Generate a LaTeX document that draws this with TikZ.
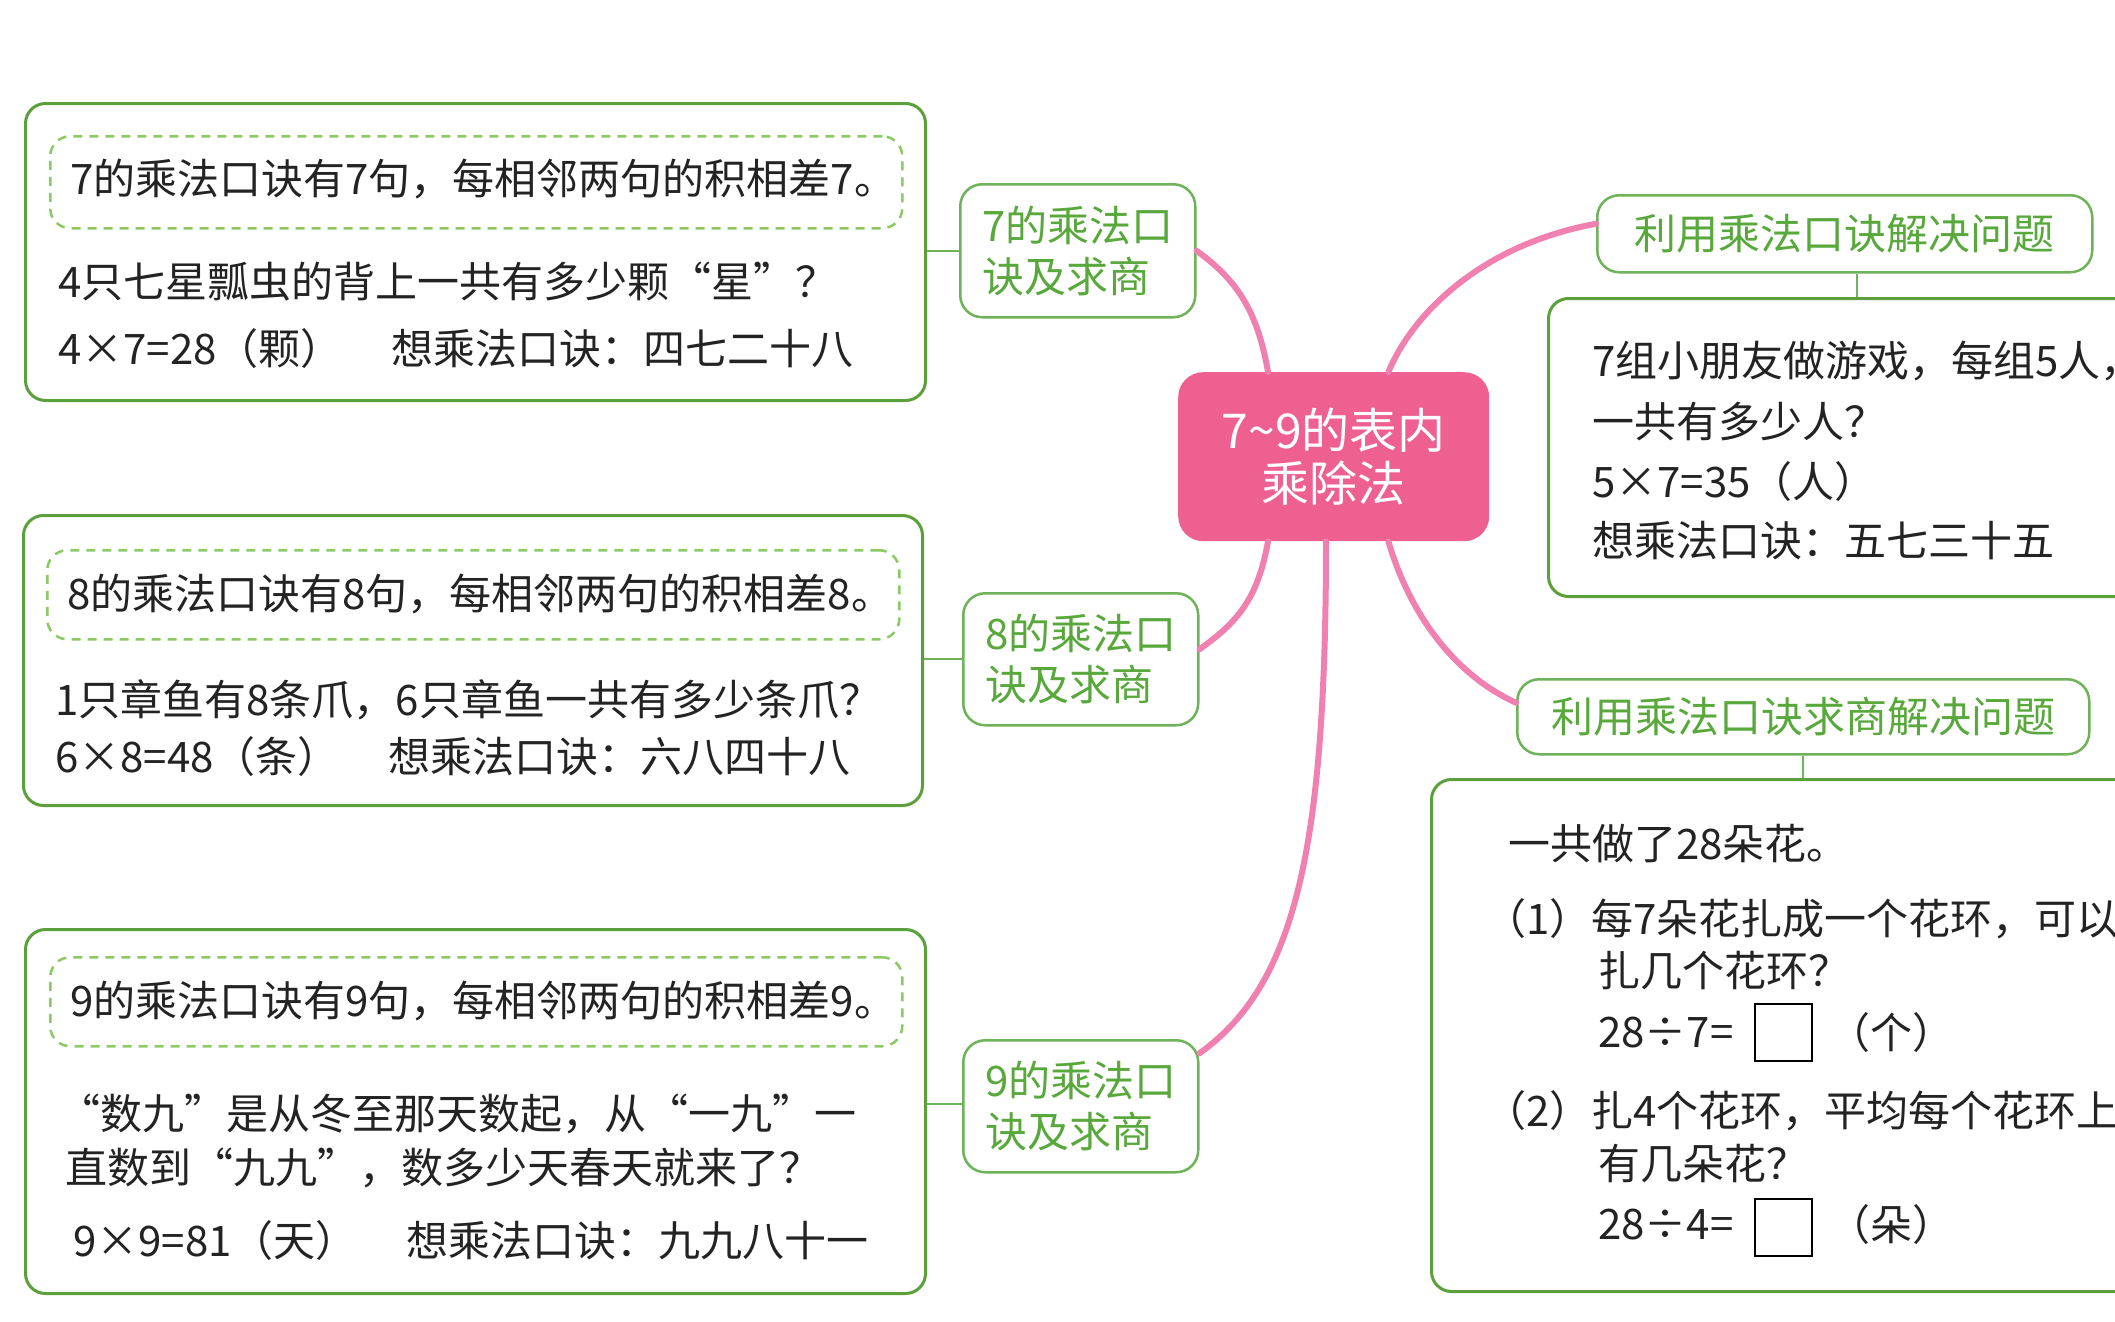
\documentclass[tikz,border=0pt]{standalone}
\usepackage{fontspec}
\setmainfont{Noto Sans CJK SC}
\definecolor{gborder}{RGB}{92,160,60}
\definecolor{gnode}{RGB}{110,178,90}
\definecolor{gtext}{RGB}{88,168,60}
\definecolor{gdash}{RGB}{140,200,100}
\definecolor{pinkfill}{RGB}{238,96,143}
\definecolor{pinkline}{RGB}{240,128,176}
\definecolor{ink}{RGB}{35,35,35}
\begin{document}
\begin{tikzpicture}[x=1pt,y=-1pt,
  bigbox/.style={draw=gborder, line width=3pt, rounded corners=20pt, anchor=north west, inner sep=0pt},
  dashbox/.style={draw=gdash, line width=2.5pt, dash pattern=on 9pt off 7pt, rounded corners=20pt, anchor=north west, inner sep=0pt},
  topic/.style={draw=gnode, line width=2.5pt, rounded corners=22pt, text=gtext, font=\fontsize{42}{51}\selectfont, align=left, anchor=north west},
  body/.style={anchor=west, inner sep=0pt, font=\fontsize{42}{50}\selectfont, text=ink},
  branch/.style={draw=pinkline, line width=6pt, line cap=round},
  link/.style={draw=gnode, line width=2pt},
  answerbox/.style={draw=black, line width=2pt, minimum size=57pt, inner sep=0pt}]
\useasboundingbox (0,0) rectangle (2115,1322);
\fill[white] (0,0) rectangle (2115,1322);
\clip (0,0) rectangle (2115,1322);

% ---------- centre ----------
\node[fill=pinkfill, rounded corners=25pt, minimum width=311pt, minimum height=169pt,
      text=white, font=\fontsize{48}{53}\selectfont, align=center, anchor=north west, inner sep=0pt]
      (c) at (1178,372) {7\textasciitilde9的表内\\乘除法};

% ---------- left topics ----------
\node[topic, minimum width=235pt, minimum height=133pt] (n7) at (959,183) {7的乘法口\\诀及求商};
\node[topic, minimum width=235pt, minimum height=132pt] (n8) at (962,592) {8的乘法口\\诀及求商};
\node[topic, minimum width=235pt, minimum height=132pt] (n9) at (962,1039) {9的乘法口\\诀及求商};

% ---------- right topics ----------
\node[topic, minimum width=495pt, minimum height=77pt] (r1) at (1596,194) {利用乘法口诀解决问题};
\node[topic, minimum width=572pt, minimum height=75pt] (r2) at (1516,678) {利用乘法口诀求商解决问题};

% ---------- left boxes ----------
\node[bigbox, minimum width=900pt, minimum height=297pt] (b7) at (24,102) {};
\node[dashbox, minimum width=852pt, minimum height=92pt] (d7) at (49,135) {};
\node[body] (t71) at (70,179) {7的乘法口诀有7句，每相邻两句的积相差7。};
\node[body] (t72) at (58,282) {4只七星瓢虫的背上一共有多少颗“星”？};
\node[body] (t73) at (58,349) {4×7=28（颗）};
\node[body] (t74) at (391,349) {想乘法口诀：四七二十八};

\node[bigbox, minimum width=899pt, minimum height=290pt] (b8) at (22,514) {};
\node[dashbox, minimum width=852pt, minimum height=89pt] (d8) at (46,549) {};
\node[body] (t81) at (67,594) {8的乘法口诀有8句，每相邻两句的积相差8。};
\node[body] (t82) at (55,700) {1只章鱼有8条爪，6只章鱼一共有多少条爪？};
\node[body] (t83) at (55,757) {6×8=48（条）};
\node[body] (t84) at (388,757) {想乘法口诀：六八四十八};

\node[bigbox, minimum width=900pt, minimum height=364pt] (b9) at (24,928) {};
\node[dashbox, minimum width=852pt, minimum height=89pt] (d9) at (49,956) {};
\node[body] (t91) at (70,1001) {9的乘法口诀有9句，每相邻两句的积相差9。};
\node[body] (t92) at (58,1114) {“数九”是从冬至那天数起，从“一九”一};
\node[body] (t93) at (65,1168) {直数到“九九”，数多少天春天就来了？};
\node[body] (t94) at (73,1241) {9×9=81（天）};
\node[body] (t95) at (406,1241) {想乘法口诀：九九八十一};

% ---------- right boxes ----------
\node[bigbox, minimum width=640pt, minimum height=298pt] (br1) at (1547,297) {};
\node[body] (s1) at (1592,361) {7组小朋友做游戏，每组5人，};
\node[body] (s2) at (1592,422) {一共有多少人？};
\node[body] (s3) at (1592,482) {5×7=35（人）};
\node[body] (s4) at (1592,541) {想乘法口诀：五七三十五};

\node[bigbox, minimum width=760pt, minimum height=512pt] (br2) at (1430,778) {};
\node[body] (u1) at (1508,844) {一共做了28朵花。};
\node[body] (u2) at (1484,919) {（1）每7朵花扎成一个花环，可以};
\node[body] (u3) at (1598,971) {扎几个花环？};
\node[body] (u4) at (1598,1033) {28÷7=};
\node[answerbox] (q1) at (1783,1032) {};
\node[body] (u5) at (1828,1033) {（个）};
\node[body] (u6) at (1484,1111) {（2）扎4个花环，平均每个花环上};
\node[body] (u7) at (1598,1164) {有几朵花？};
\node[body] (u8) at (1598,1225) {28÷4=};
\node[answerbox] (q2) at (1783,1227) {};
\node[body] (u9) at (1828,1225) {（朵）};

% ---------- green links ----------
\draw[link] (n7.west) -- (n7.west -| b7.east);
\draw[link] (n8.west) -- (n8.west -| b8.east);
\draw[link] ([yshift=2pt]n9.west) -- ([yshift=2pt]n9.west -| b9.east);
\draw[link] ([xshift=261pt]r1.south west) -- ([xshift=261pt]r1.south west |- br1.north);
\draw[link] ([xshift=287pt]r2.south west) -- ([xshift=287pt]r2.south west |- br2.north);

% ---------- pink branches ----------
\draw[branch] ([xshift=90pt]c.north west) .. controls (1258,315) and (1240,282) .. (n7.east);
\draw[branch] ([xshift=90pt]c.south west) .. controls (1258,598) and (1238,622) .. ([yshift=10pt]n8.east);
\draw[branch] ([xshift=148pt]c.south west) .. controls (1326,850) and (1295,985) .. ([yshift=53pt]n9.east);
\draw[branch] ([xshift=-101pt]c.north east) .. controls (1412,315) and (1480,245) .. ([yshift=10pt]r1.west);
\draw[branch] ([xshift=-101pt]c.south east) .. controls (1410,615) and (1455,675) .. ([yshift=14pt]r2.west);
\end{tikzpicture}
\end{document}
